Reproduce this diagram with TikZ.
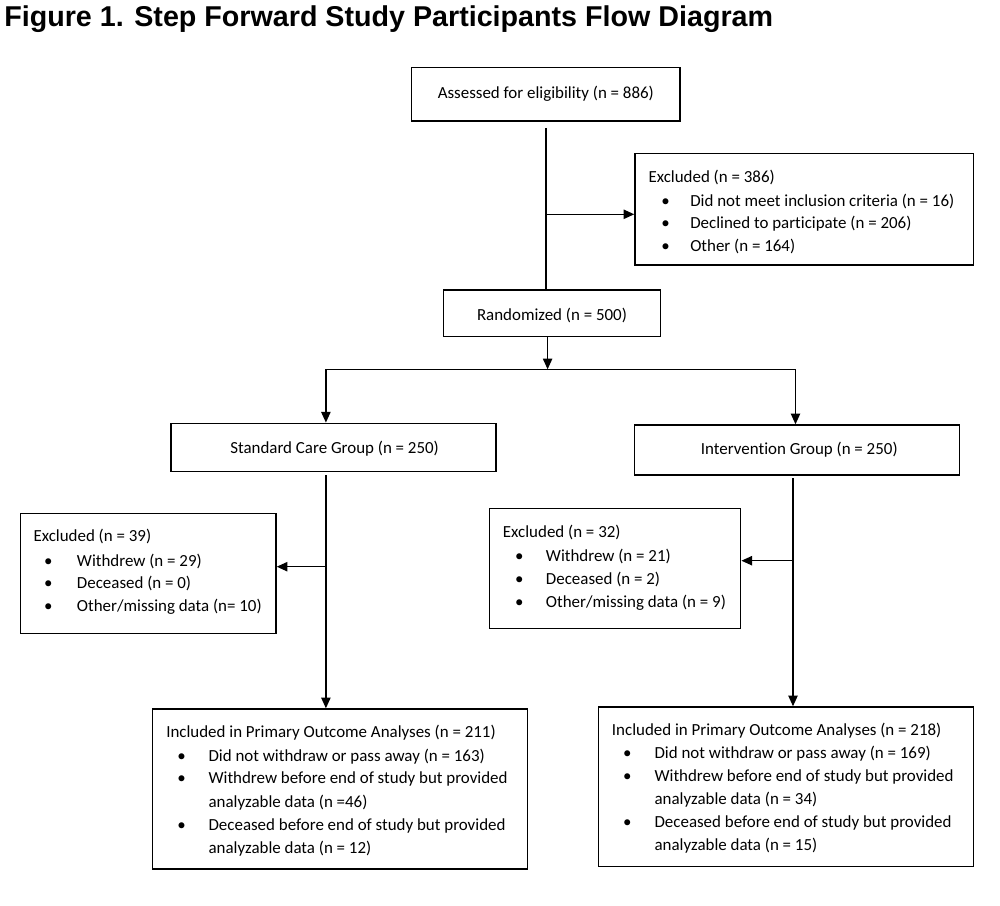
\documentclass[tikz,border=0pt]{standalone}
\usepackage{fontspec}
\setmainfont{Carlito}[Ligatures=NoCommon]
\newfontfamily\titlefont{Liberation Sans}
\usetikzlibrary{arrows.meta,fit}
\begin{document}
\begin{tikzpicture}[x=0.75pt,y=-0.75pt,
  box/.style={draw, line width=1.1pt, inner sep=0pt},
  txt/.style={inner sep=0pt, font=\fontsize{12.7pt}{15pt}\selectfont},
  ln/.style={line width=1pt},
  arr/.style={line width=1pt, -{Triangle[length=8pt,width=7pt]}}]
\useasboundingbox[fill=white] (0,0) rectangle (1000,906);

% title
\node[anchor=base west, inner sep=0pt, font=\titlefont\bfseries\fontsize{21.5pt}{26pt}\selectfont] (title) at (4,27) {Figure 1. Step Forward Study Participants Flow Diagram};

% boxes
\node[box, fit={(411.7,67.3) (680,121)}] (assess) {};
\node[box, fit={(635,153.3) (973.3,265)}] (excl) {};
\node[box, fit={(443.5,290) (660.4,336.7)}] (rand) {};
\node[box, fit={(171.2,423.3) (495.8,471.7)}] (std) {};
\node[box, fit={(634.5,425) (959.7,475)}] (int) {};
\node[box, fit={(20.7,513.3) (276,633.3)}] (exclL) {};
\node[box, fit={(489.3,508.3) (740.7,628.3)}] (exclR) {};
\node[box, fit={(152.7,709) (527.3,869)}] (inclL) {};
\node[box, fit={(598.3,707) (973.3,866.7)}] (inclR) {};

% single-line box texts
\node[txt, anchor=base] (assessT) at (545.85,98.3) {Assessed for eligibility (n = 886)};
\node[txt, anchor=base] (randT) at (552,320.6) {Randomized (n = 500)};
\node[txt, anchor=base] (stdT) at (334.6,453.3) {Standard Care Group (n = 250)};
\node[txt, anchor=base] (intT) at (799.3,454.9) {Intervention Group (n = 250)};

% excluded (top)
\node[txt, anchor=base west] (e0) at (648.3,182.3) {Excluded (n = 386)};
\node[txt, anchor=base] (e1b) at (665.7,206.3) {•};
\node[txt, anchor=base west] (e1) at (690,206.3) {Did not meet inclusion criteria (n = 16)};
\node[txt, anchor=base] (e2b) at (665.7,228.6) {•};
\node[txt, anchor=base west] (e2) at (690,228.6) {Declined to participate (n = 206)};
\node[txt, anchor=base] (e3b) at (665.7,251.3) {•};
\node[txt, anchor=base west] (e3) at (690,251.3) {Other (n = 164)};

% excluded left
\node[txt, anchor=base west] (l0) at (33.3,541.9) {Excluded (n = 39)};
\node[txt, anchor=base] (l1b) at (48.3,566.3) {•};
\node[txt, anchor=base west] (l1) at (76.7,566.3) {Withdrew (n = 29)};
\node[txt, anchor=base] (l2b) at (48.3,588.6) {•};
\node[txt, anchor=base west] (l2) at (76.7,588.6) {Deceased (n = 0)};
\node[txt, anchor=base] (l3b) at (48.3,611.3) {•};
\node[txt, anchor=base west] (l3) at (76.7,611.3) {Other/missing data (n= 10)};

% excluded right
\node[txt, anchor=base west] (r0) at (502.7,537.9) {Excluded (n = 32)};
\node[txt, anchor=base] (r1b) at (519.3,561.9) {•};
\node[txt, anchor=base west] (r1) at (545.7,561.9) {Withdrew (n = 21)};
\node[txt, anchor=base] (r2b) at (519.3,584.6) {•};
\node[txt, anchor=base west] (r2) at (545.7,584.6) {Deceased (n = 2)};
\node[txt, anchor=base] (r3b) at (519.3,607.3) {•};
\node[txt, anchor=base west] (r3) at (545.7,607.3) {Other/missing data (n = 9)};

% included left
\node[txt, anchor=base west] (il0) at (166,737.9) {Included in Primary Outcome Analyses (n = 211)};
\node[txt, anchor=base] (il1b) at (181.7,761.3) {•};
\node[txt, anchor=base west] (il1) at (208.3,761.3) {Did not withdraw or pass away (n = 163)};
\node[txt, anchor=base] (il2b) at (181.7,783.9) {•};
\node[txt, anchor=base west] (il2) at (208.3,783.9) {Withdrew before end of study but provided};
\node[txt, anchor=base west] (il2c) at (208.3,807.3) {analyzable data (n =46)};
\node[txt, anchor=base] (il3b) at (181.7,830.6) {•};
\node[txt, anchor=base west] (il3) at (208.3,830.6) {Deceased before end of study but provided};
\node[txt, anchor=base west] (il3c) at (208.3,853.9) {analyzable data (n = 12)};

% included right
\node[txt, anchor=base west] (ir0) at (611.7,735.3) {Included in Primary Outcome Analyses (n = 218)};
\node[txt, anchor=base] (ir1b) at (627.3,758.6) {•};
\node[txt, anchor=base west] (ir1) at (654.3,758.6) {Did not withdraw or pass away (n = 169)};
\node[txt, anchor=base] (ir2b) at (627.3,781.6) {•};
\node[txt, anchor=base west] (ir2) at (654.3,781.6) {Withdrew before end of study but provided};
\node[txt, anchor=base west] (ir2c) at (654.3,804.6) {analyzable data (n = 34)};
\node[txt, anchor=base] (ir3b) at (627.3,827.6) {•};
\node[txt, anchor=base west] (ir3) at (654.3,827.6) {Deceased before end of study but provided};
\node[txt, anchor=base west] (ir3c) at (654.3,850.6) {analyzable data (n = 15)};

% connectors
\coordinate (a1) at (545.85,128);
\coordinate (b1) at (545.85,214.3);
\draw[ln] (a1) -- (a1 |- rand.north);
\draw[arr] (b1) -- (b1 -| excl.west);

\coordinate (split) at (547.6,369.3);
\coordinate (sl) at (325.9,369.3);
\coordinate (sr) at (795.5,369.3);
\draw[arr] (split |- rand.south) -- (split);
\draw[ln] (sl) -- (sr);
\draw[arr] (sl) -- (sl |- std.north);
\draw[arr] (sr) -- (sr |- int.north);

\coordinate (sd) at (325.9,475);
\coordinate (lb) at (325.9,566.7);
\draw[arr] (sd) -- (sd |- inclL.north);
\draw[arr] (lb) -- (lb -| exclL.east);

\coordinate (rd) at (793,478);
\coordinate (rb) at (793,560.7);
\draw[arr] (rd) -- (rd |- inclR.north);
\draw[arr] (rb) -- (rb -| exclR.east);
\end{tikzpicture}
\end{document}
